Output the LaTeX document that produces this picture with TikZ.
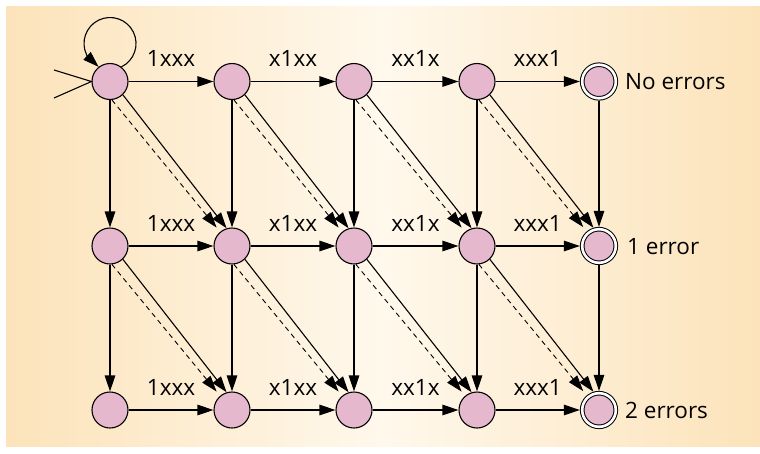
\documentclass[tikz,border=0pt]{standalone}
\usepackage{fontspec}
\setmainfont{Open Sans}
\usetikzlibrary{arrows.meta,bending}
\definecolor{bgedge}{RGB}{252,227,186}
\definecolor{bgmid}{RGB}{255,248,236}
\definecolor{statefill}{RGB}{229,184,205}
\begin{document}
\begin{tikzpicture}[x=1pt,y=-1pt,
  font=\fontsize{22.5}{26}\selectfont,
  stnode/.style={circle,draw=black,line width=1.1pt,fill=statefill,
    minimum size=36pt,inner sep=0pt,outer sep=0.55pt},
  accnode/.style={circle,draw=black,line width=1pt,double=white,
    double distance=2.6pt,fill=statefill,minimum size=33.6pt,
    inner sep=0pt,outer sep=2.3pt},
  trans/.style={line width=1.1pt,-{Triangle[length=16pt,width=10.5pt]}},
  alttrans/.style={trans,line width=0.9pt,dash pattern=on 5pt off 4pt},
  lbl/.style={anchor=base,inner sep=0pt},
  endlbl/.style={anchor=base west,inner sep=0pt}]
\useasboundingbox (0,0) rectangle (760,453);
% panel with a horizontal light-centre gradient
\fill[white] (0,0) rectangle (760,453);
\shade[left color=bgedge,right color=bgedge,middle color=bgmid]
  (6,6) rectangle (760,446);

% states: three rows of five, last column accepting
\foreach \r/\y in {1/81.5,2/246,3/410}{
  \foreach \c/\x in {1/110,2/232,3/354,4/477}
    \node[stnode] (n\r\c) at (\x,\y) {};
  \node[accnode] (n\r5) at (599,\y) {};
}

% horizontal transitions with their bit patterns
\foreach \r in {1,2,3}{
  \foreach \c/\d/\t in {1/2/1xxx,2/3/x1xx,3/4/xx1x,4/5/xxx1}{
    \draw[trans] (n\r\c) -- node[lbl,yshift=15pt] (l\r\c) {\t} (n\r\d);
  }
}

% vertical transitions
\foreach \c in {1,...,5}{
  \draw[trans] (n1\c) -- (n2\c);
  \draw[trans] (n2\c) -- (n3\c);
}

% diagonal transitions: solid and dashed pair
\foreach \r/\s in {1/2,2/3}{
  \foreach \c/\d in {1/2,2/3,3/4,4/5}{
    \draw[trans] (n\r\c.-46) -- (n\s\d.107);
    \draw[alttrans,shorten >=5.5pt] (n\r\c.-84) -- (n\s\d.130);
  }
}

% start marker and self loop
\coordinate (in1) at (54,70);
\coordinate (in2) at (54,98);
\draw[line width=1.1pt] (in1) -- (n11.west) -- (in2);
\draw[line width=1.1pt,-{Triangle[length=16pt,width=10.5pt,flex]}]
  (n11.52) arc[start angle=-64,end angle=244,radius=26pt];

% accepting-state labels
\node[endlbl] (e1) at (625,89.5) {No errors};
\node[endlbl] (e2) at (627,254) {1 error};
\node[endlbl] (e3) at (625,418) {2 errors};
\end{tikzpicture}
\end{document}
